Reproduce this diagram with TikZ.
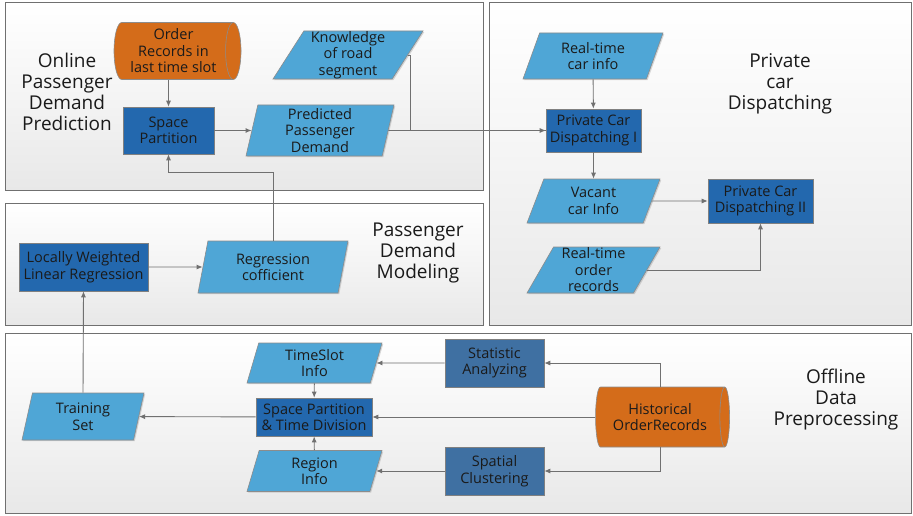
\documentclass[tikz,border=0pt]{standalone}
\usepackage{fontspec}
\setmainfont{Open Sans}
\usepackage[HTML]{xcolor}
\usetikzlibrary{shapes.geometric, arrows.meta, shadows}

\definecolor{infoblue}{HTML}{4FA6D6}
\definecolor{procblue}{HTML}{2368AE}
\definecolor{statblue}{HTML}{3F70A2}
\definecolor{recorange}{HTML}{D46C1A}
\definecolor{edgegray}{HTML}{707070}

\tikzset{
  panel/.style={draw=edgegray, line width=0.9pt, top color=white, bottom color=black!9},
  paneltitle/.style={align=center, font=\fontsize{19}{21}\selectfont, text=black!90},
  boxtext/.style={align=center, inner sep=0pt, text=black!90, font=\fontsize{14.5}{16.5}\selectfont},
  lift/.style={drop shadow={shadow xshift=1.2pt, shadow yshift=-1.2pt, opacity=0.3}},
  datanode/.style={boxtext, lift, trapezium, trapezium left angle=#1, trapezium right angle={180-#1},
    trapezium stretches body, fill=infoblue, draw=black!45, line width=0.6pt},
  datanode/.default=58,
  procbox/.style={boxtext, lift, rectangle, fill=procblue, draw=black!50, line width=0.6pt},
  statbox/.style={procbox, fill=statblue},
  store/.style={boxtext, cylinder, shape aspect=0.35, fill=recorange, draw=black!45, line width=0.6pt},
  flow/.style={draw=edgegray, line width=0.9pt, -{Latex[length=6pt,width=5pt]}},
  link/.style={draw=edgegray, line width=0.9pt}
}

\begin{document}
\begin{tikzpicture}[x=1pt, y=-1pt]
\useasboundingbox (0,0) rectangle (913,516);

% --- Panels ---
\draw[panel] (5,2) rectangle (483,190);
\draw[panel] (5,203) rectangle (483,325);
\draw[panel] (489,2) rectangle (911,325);
\draw[panel] (5,333) rectangle (911,513);

% --- Panel titles ---
\node[paneltitle] (titleonline) at (67,92) {Online\\Passenger\\Demand\\Prediction};
\node[paneltitle] (titlemodel) at (418,253) {Passenger\\Demand\\Modeling};
\node[paneltitle] (titledispatch) at (780,84) {Private\\car\\Dispatching};
\node[paneltitle] (titleoffline) at (836,400) {Offline\\Data\\Preprocessing};

% --- Online passenger demand prediction ---
\node[store, minimum width=57pt, minimum height=127pt] (orders) at (173.5,51) {Order\\Records in\\last time slot};
\node[procbox, minimum width=91pt, minimum height=47pt] (spacepart) at (168.5,130.5) {Space\\Partition};
\node[datanode=57, minimum width=150pt, minimum height=48pt] (knowledge) at (348,55) {Knowledge\\of road\\segment};
\node[datanode=75, minimum width=148pt, minimum height=51pt] (predicted) at (320,130.5) {Predicted\\Passenger\\Demand};

% --- Passenger demand modeling ---
\node[procbox, minimum width=129pt, minimum height=48pt] (lwlr) at (83.5,267) {Locally Weighted\\Linear Regression};
\node[datanode=70, minimum width=150pt, minimum height=52pt] (regress) at (273,267) {Regression\\cofficient};

% --- Private car dispatching ---
\node[datanode=59, minimum width=140pt, minimum height=46pt] (realcar) at (593,56) {Real-time\\car info};
\node[procbox, minimum width=95pt, minimum height=43pt] (pcdone) at (593.5,130.5) {Private Car\\Dispatching I};
\node[datanode=58, minimum width=133pt, minimum height=44pt] (vacant) at (593.5,201) {Vacant\\car Info};
\node[procbox, minimum width=105pt, minimum height=44pt] (pcdtwo) at (760.5,201) {Private Car\\Dispatching II};
\node[datanode=59, minimum width=133pt, minimum height=46pt] (realorder) at (593.5,270) {Real-time\\order\\records};

% --- Offline data preprocessing ---
\node[datanode=67, minimum width=135pt, minimum height=40pt] (timeslot) at (314.5,363) {TimeSlot\\Info};
\node[statbox, minimum width=99pt, minimum height=48pt] (stat) at (494.5,363) {Statistic\\Analyzing};
\node[procbox, minimum width=116pt, minimum height=38pt] (sptd) at (314,417) {Space Partition\\\& Time Division};
\node[datanode=69, minimum width=122pt, minimum height=47pt] (training) at (83,416.5) {Training\\Set};
\node[datanode=66, minimum width=135pt, minimum height=41pt] (region) at (314.5,471) {Region\\Info};
\node[statbox, minimum width=99pt, minimum height=48pt] (spatial) at (494.5,471) {Spatial\\Clustering};
\node[store, minimum width=60pt, minimum height=134pt] (historical) at (660,417) {Historical\\OrderRecords};

% --- Connectors, top ---
\draw[flow] (spacepart.north |- orders.south) -- (spacepart.north);
\draw[flow] (spacepart) -- (predicted);
\draw[link] (knowledge.east) -- ++(3,0) |- (pcdone.west);
\draw[flow] (predicted.east) -- (pcdone.west);
\draw[flow] (regress.north) -- ++(0,-68) -| (spacepart.south);
\draw[flow] (lwlr) -- (regress);
\draw[flow] (realcar) -- (pcdone);
\draw[flow] (pcdone) -- (vacant);
\draw[flow] (vacant) -- (pcdtwo);
\draw[flow] (realorder.east) -| (pcdtwo.south);

% --- Connectors, bottom ---
\draw[flow] (training.north) -- (lwlr.south);
\draw[flow] (historical.north) |- (stat.east);
\draw[flow] (historical.south) |- (spatial.east);
\draw[flow] (stat) -- (timeslot);
\draw[flow] (spatial) -- (region);
\draw[flow] (historical) -- (sptd);
\draw[flow] (sptd) -- (training);
\draw[flow] (timeslot) -- (sptd);
\draw[flow] (region) -- (sptd);
\end{tikzpicture}
\end{document}
